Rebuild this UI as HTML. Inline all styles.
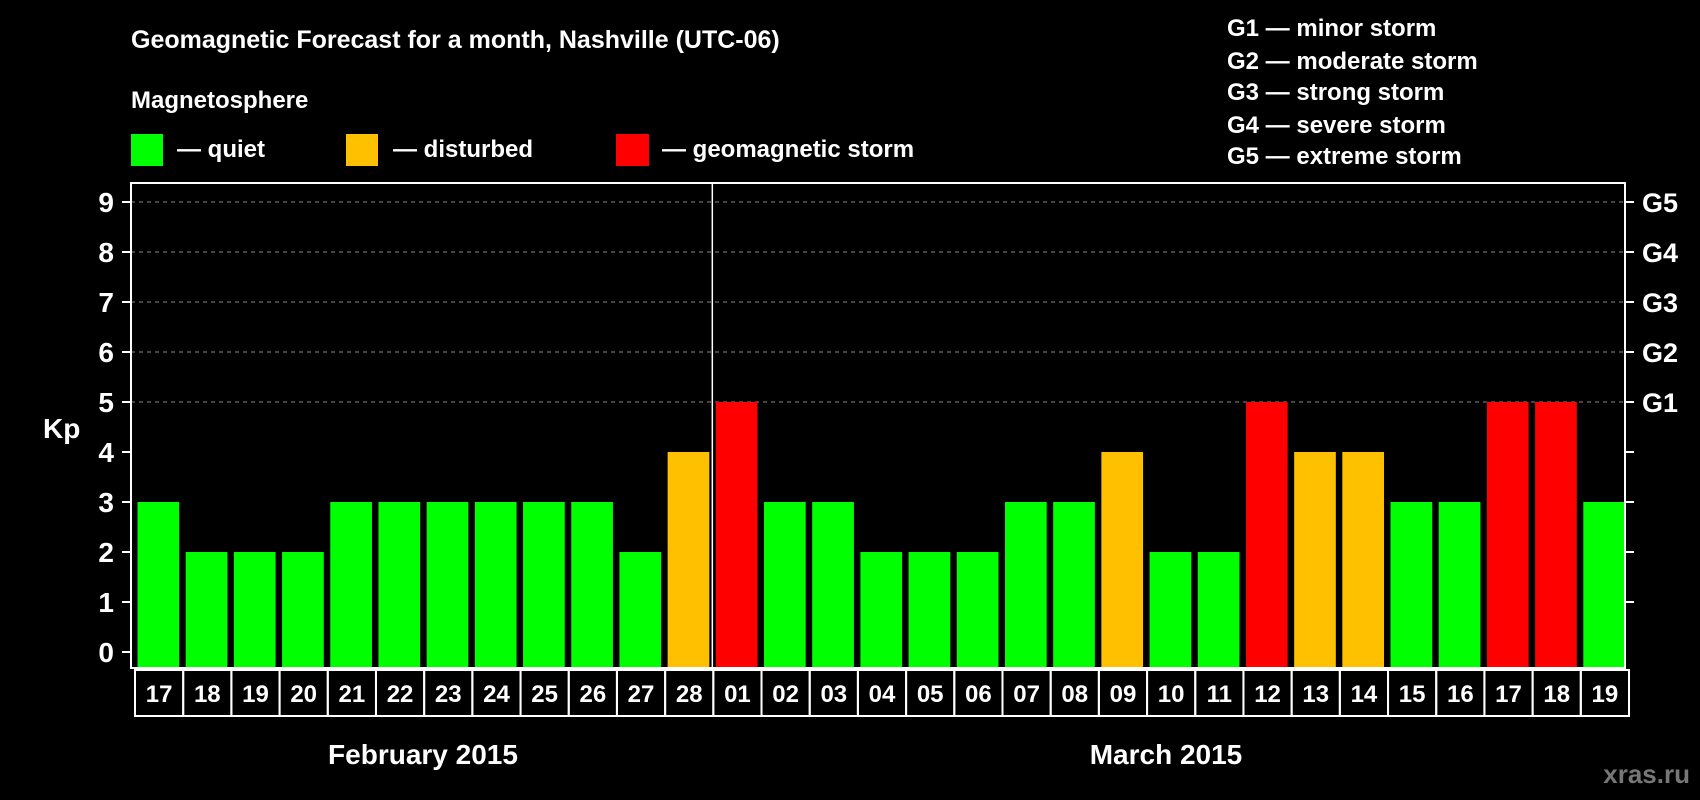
<!DOCTYPE html>
<html><head><meta charset="utf-8"><style>
html,body{margin:0;padding:0;background:#000;}
svg{display:block;}
text{font-family:"Liberation Sans",Arial,sans-serif;font-weight:bold;fill:#fff;}
</style></head><body>
<svg id="chart" width="1700" height="800" viewBox="0 0 1700 800" xmlns="http://www.w3.org/2000/svg">
<rect width="1700" height="800" fill="#000"/>
<text x="131" y="48" font-size="25">Geomagnetic Forecast for a month, Nashville (UTC-06)</text>
<text x="131" y="108" font-size="24">Magnetosphere</text>
<g><rect x="131" y="134" width="32" height="32" fill="#00ff00"/><text x="177" y="157" font-size="24">— quiet</text></g>
<g><rect x="346" y="134" width="32" height="32" fill="#ffc000"/><text x="393" y="157" font-size="24">— disturbed</text></g>
<g><rect x="616" y="134" width="33" height="32" fill="#ff0000"/><text x="662" y="157" font-size="24">— geomagnetic storm</text></g>
<g font-size="24">
<text x="1227" y="36">G1 — minor storm</text>
<text x="1227" y="69">G2 — moderate storm</text>
<text x="1227" y="100">G3 — strong storm</text>
<text x="1227" y="133">G4 — severe storm</text>
<text x="1227" y="164">G5 — extreme storm</text>
</g>
<g id="grid"></g><g id="bars"></g><g id="axes"></g><g id="labels"></g>
<text x="43" y="438" font-size="28">Kp</text>
<text x="423" y="764" font-size="28" text-anchor="middle">February 2015</text>
<text x="1166" y="764" font-size="28" text-anchor="middle">March 2015</text>
<text x="1690" y="783" font-size="26" text-anchor="end" style="fill:#777">xras.ru</text>
</svg>
<script>
const days = ["17","18","19","20","21","22","23","24","25","26","27","28","01","02","03","04","05","06","07","08","09","10","11","12","13","14","15","16","17","18","19"];
const kp = [3,2,2,2,3,3,3,3,3,3,2,4,5,3,3,2,2,2,3,3,4,2,2,5,4,4,3,3,5,5,3];
const yTicks = [0,1,2,3,4,5,6,7,8,9];
const gLabels = ["G1","G2","G3","G4","G5"];
const NS="http://www.w3.org/2000/svg";
const X0=131, X1=1625, YT=183, YB=668;
const band=(X1-X0)/days.length;
function x(i){return X0+band*i;}
function y(v){return 652-50*v;}
function mk(tag,attrs,parent){const e=document.createElementNS(NS,tag);for(const k in attrs)e.setAttribute(k,attrs[k]);parent.appendChild(e);return e;}
function color(v){return v>=5?"#ff0000":(v>=4?"#ffc000":"#00ff00");}
const grid=document.getElementById("grid"),bars=document.getElementById("bars"),axes=document.getElementById("axes"),labels=document.getElementById("labels");
for(let v=5;v<=9;v++){
  const l=mk("line",{x1:X0,x2:X1,y1:y(v),y2:y(v),stroke:"#888","stroke-width":1,"stroke-dasharray":"4,4"},grid);
  
  
}
kp.forEach((v,i)=>{
  const r=mk("rect",{x:x(i)+6.5,y:y(v),width:band-6.5,height:YB-y(v),fill:color(v)},bars);
  
  
  const c=mk("rect",{x:x(i)+4,y:670,width:band,height:46,fill:"none",stroke:"#fff","stroke-width":2},labels);
  
  
  const t=mk("text",{x:x(i)+4+band/2,y:702,"font-size":24,"text-anchor":"middle"},labels);
  t.textContent=days[i];
  
  
});
const frame=mk("rect",{x:X0,y:YT,width:X1-X0,height:YB-YT,fill:"none",stroke:"#fff","stroke-width":2},axes);


const div=mk("line",{x1:x(12)+3,x2:x(12)+3,y1:YT,y2:YB,stroke:"#fff","stroke-width":1.5},axes);


yTicks.forEach(v=>{
  mk("line",{x1:X0-9,x2:X0,y1:y(v),y2:y(v),stroke:"#fff","stroke-width":2},axes);
  const t=mk("text",{x:X0-17,y:y(v)+10,"font-size":28,"text-anchor":"end"},axes);
  t.textContent=v;
  
  
  if(v>0) mk("line",{x1:X1,x2:X1+9,y1:y(v),y2:y(v),stroke:"#fff","stroke-width":2},axes);
});
gLabels.forEach((g,i)=>{
  const t=mk("text",{x:1642,y:y(5+i)+10,"font-size":27},axes);
  t.textContent=g;
  
  
});
</script>
</body></html>
